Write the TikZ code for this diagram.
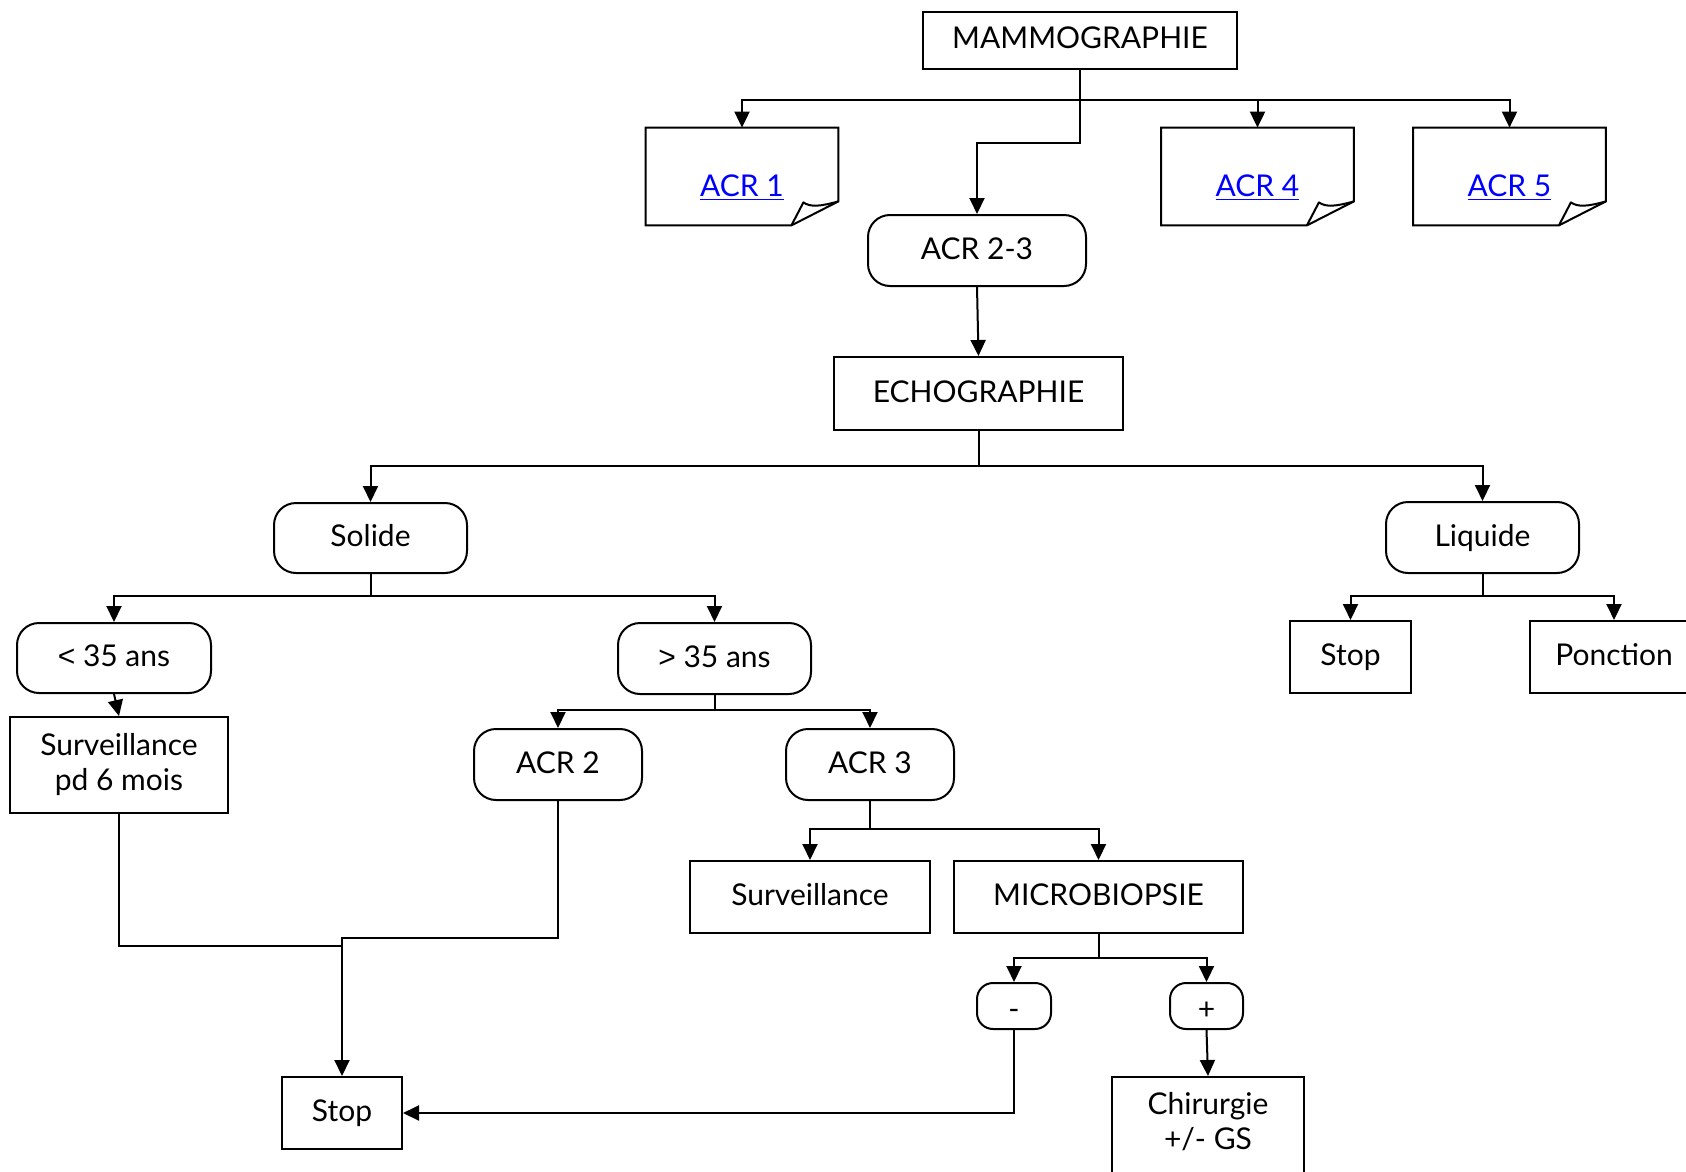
\documentclass[tikz,border=0pt]{standalone}
\usepackage{fontspec}
\setmainfont{Lato}
\newfontfamily\relfont{Liberation Sans}
\usetikzlibrary{arrows.meta}
\definecolor{linkblue}{RGB}{0,0,255}

% outline of a "document" box with a curled bottom-right corner
\newcommand{\docoutline}[1]{%
  \draw[conn, line join=miter] (#1.south west) -- (#1.north west) -- (#1.north east)
    -- ([yshift=12pt]#1.south east) -- ([xshift=-23.5pt]#1.south east) -- cycle;
  \draw[conn, line join=round] ([xshift=-23.5pt]#1.south east)
    -- ([xshift=-17.5pt,yshift=11.5pt]#1.south east)
    .. controls ([xshift=-14pt,yshift=9pt]#1.south east) and ([xshift=-9pt,yshift=9.5pt]#1.south east)
    .. ([yshift=12pt]#1.south east);}
\newcommand{\acrlink}[1]{\raisebox{-10pt}[0pt][0pt]{\textcolor{linkblue}{\underline{#1}}}}
\newcommand{\lowsign}[1]{\raisebox{-2.5pt}{#1}}

\begin{document}
\begin{tikzpicture}[x=0.5pt,y=-0.5pt,
  every node/.style={font=\fontsize{15}{17.5}\selectfont, inner sep=0pt, align=center},
  oneline/.style={text height=11.5pt, text depth=3pt},
  box/.style={draw, line width=1pt, rectangle},
  term/.style={draw, line width=1pt, rounded corners=11pt, oneline},
  small/.style={draw, line width=1pt, rounded corners=8pt, oneline},
  doc/.style={rectangle, minimum width=96pt, minimum height=48.5pt},
  conn/.style={line width=1pt},
  arr/.style={line width=1pt, -{Triangle[length=8pt,width=7.5pt]}},
]
\fill[white] (0,0) rectangle (1686,1172);
\useasboundingbox (0,0) rectangle (1686,1172);
\clip (0,0) rectangle (1686,1172);

% --- nodes ---
\node[box, oneline, minimum width=157pt, minimum height=28.5pt] (mammo) at (1080,40.5) {MAMMOGRAPHIE};

\node[doc] (acr1) at (742,176.5) {\acrlink{ACR 1}};
\node[doc] (acr4) at (1257.5,176.5) {\acrlink{ACR 4}};
\node[doc] (acr5) at (1509.5,176.5) {\acrlink{ACR 5}};
\docoutline{acr1}
\docoutline{acr4}
\docoutline{acr5}

\node[term, minimum width=109pt, minimum height=35.5pt] (acr23) at (977,250.5) {ACR 2-3};
\node[box, oneline, minimum width=144.5pt, minimum height=36.5pt] (echo) at (978.5,393.5) {ECHOGRAPHIE};

\node[term, minimum width=96.5pt, minimum height=35pt] (solide) at (370.5,538) {Solide};
\node[term, minimum width=96.5pt, minimum height=35.5pt] (liquide) at (1482.5,537.5) {Liquide};

\node[box, oneline, minimum width=60.5pt, minimum height=36pt] (stopR) at (1350.5,657) {Stop};
\node[box, oneline, minimum width=84pt, minimum height=36pt] (ponction) at (1614,657) {Ponction};

\node[term, minimum width=97pt, minimum height=35pt] (lt35) at (114,658) {{\relfont<} 35 ans};
\node[term, minimum width=96.5pt, minimum height=35.5pt] (gt35) at (714.5,658.5) {{\relfont>} 35 ans};

\node[box, minimum width=109pt, minimum height=48pt] (surv6) at (119,765) {Surveillance\\pd 6 mois};
\node[term, minimum width=84pt, minimum height=35.5pt] (acr2) at (558,764.5) {ACR 2};
\node[term, minimum width=84pt, minimum height=35.5pt] (acr3) at (870,764.5) {ACR 3};

\node[box, oneline, minimum width=120pt, minimum height=36pt] (surv) at (810,897) {Surveillance};
\node[box, oneline, minimum width=144.5pt, minimum height=36pt] (micro) at (1098.5,897) {MICROBIOPSIE};

\node[small, minimum width=37pt, minimum height=23pt] (minus) at (1014,1006) {\lowsign{-}};
\node[small, minimum width=36.5pt, minimum height=23pt] (plus) at (1206.5,1006) {\lowsign{+}};

\node[box, minimum width=96pt, minimum height=57.5pt] (chir) at (1208,1134.5) {};
\node (chirtxt) at (1208,1122) {Chirurgie\\+/- GS};

\node[box, oneline, minimum width=60pt, minimum height=36pt] (stopB) at (342,1113) {Stop};

% --- connectors ---
\coordinate (mbar) at ([yshift=-15pt]mammo.south);
\draw[conn] (mammo.south) -- (mbar);
\draw[arr] (mbar) -| (acr1.north);
\draw[arr] (mbar) -| (acr4.north);
\draw[arr] (mbar) -| (acr5.north);
\draw[arr] (mbar) -- ([yshift=-36.5pt]mammo.south) -| (acr23.north);

\draw[arr] (acr23.south) -- (echo.north);

\coordinate (ebar) at ([yshift=-17.5pt]echo.south);
\draw[conn] (echo.south) -- (ebar);
\draw[arr] (ebar) -| (solide.north);
\draw[arr] (ebar) -| (liquide.north);

\coordinate (sbar) at ([yshift=-11pt]solide.south);
\draw[conn] (solide.south) -- (sbar);
\draw[arr] (sbar) -| (lt35.north);
\draw[arr] (sbar) -| (gt35.north);

\coordinate (lbar) at ([yshift=-11pt]liquide.south);
\draw[conn] (liquide.south) -- (lbar);
\draw[arr] (lbar) -| (stopR.north);
\draw[arr] (lbar) -| (ponction.north);

\draw[arr] (lt35.south) -- (surv6.north);

\coordinate (gbar) at ([yshift=-7.5pt]gt35.south);
\draw[conn] (gt35.south) -- (gbar);
\draw[arr] (gbar) -| (acr2.north);
\draw[arr] (gbar) -| (acr3.north);

\coordinate (abar) at ([yshift=-14pt]acr3.south);
\draw[conn] (acr3.south) -- (abar);
\draw[arr] (abar) -| (surv.north);
\draw[arr] (abar) -| (micro.north);

\coordinate (mibar) at ([yshift=-12pt]micro.south);
\draw[conn] (micro.south) -- (mibar);
\draw[arr] (mibar) -| (minus.north);
\draw[arr] (mibar) -| (plus.north);

\draw[arr] (plus.south) -- (chir.north);
\draw[arr] (minus.south) |- (stopB.east);

\coordinate (a2j) at ([yshift=-68.5pt]acr2.south);
\draw[arr] (acr2.south) -- (a2j) -| (stopB.north);
\coordinate (s6j) at ([yshift=-66pt]surv6.south);
\draw[conn] (surv6.south) -- (s6j) -- (s6j -| stopB.north);
\end{tikzpicture}
\end{document}
